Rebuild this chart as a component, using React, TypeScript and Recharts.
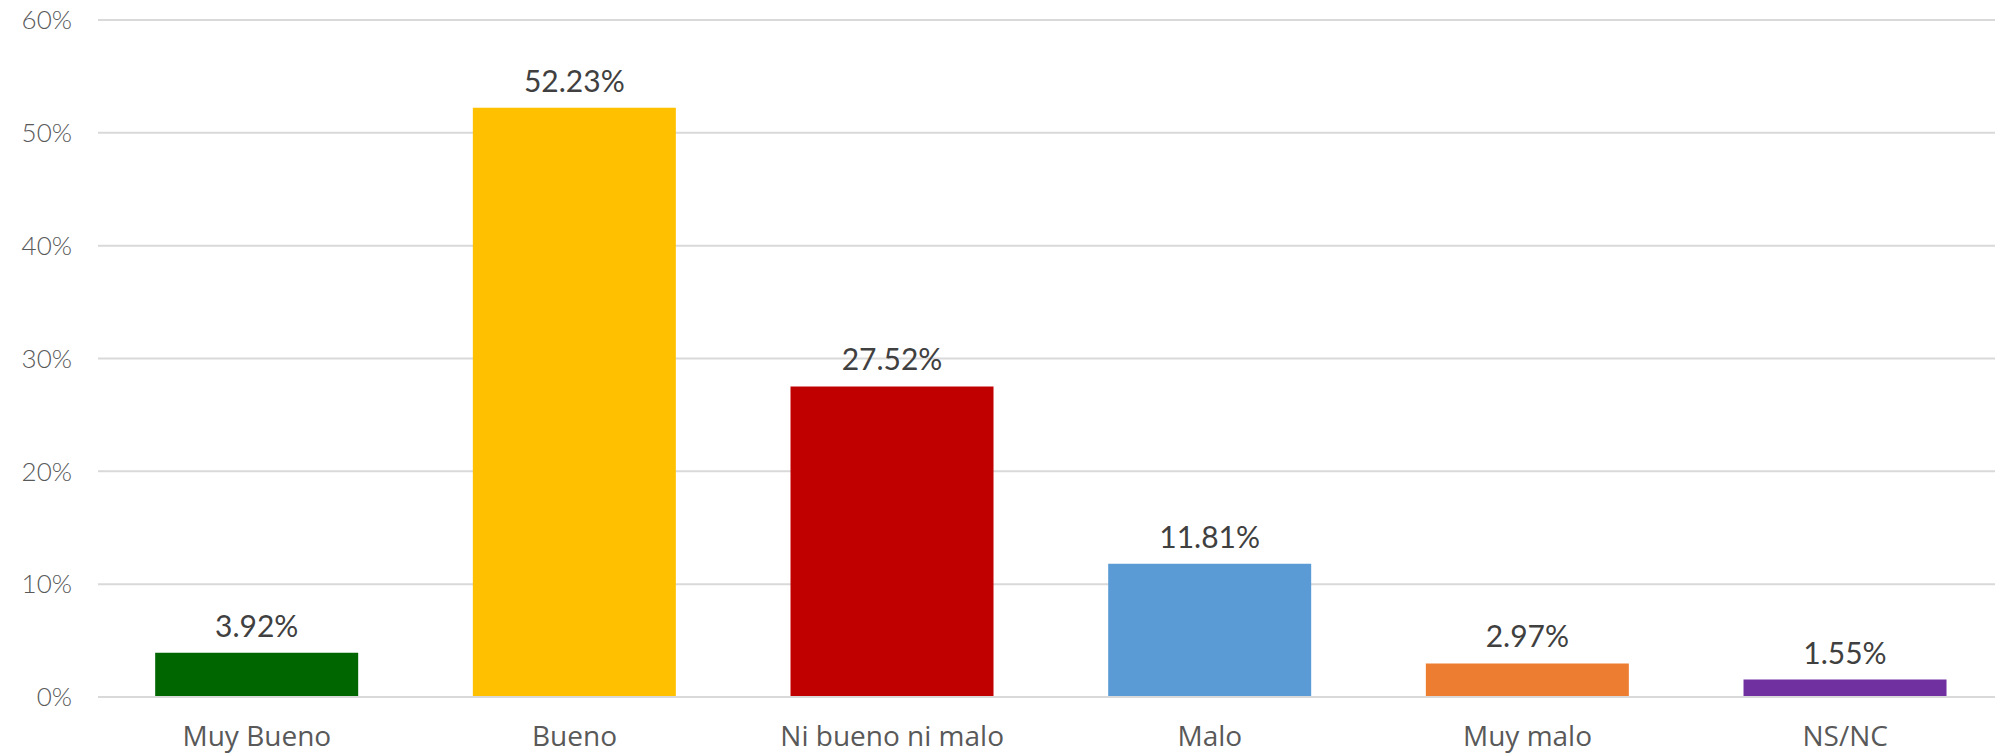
import React from 'react';
import { BarChart, Bar, XAxis, YAxis, CartesianGrid, Cell, LabelList } from 'recharts';

document.body.style.margin = '0';

const categories = ['Muy Bueno', 'Bueno', 'Ni bueno ni malo', 'Malo', 'Muy malo', 'NS/NC'];
const values = [3.92, 52.23, 27.52, 11.81, 2.97, 1.55];
const barColors = ['#006600', '#FFC000', '#C00000', '#5B9BD5', '#ED7D31', '#7030A0'];
const yTicks = [0, 10, 20, 30, 40, 50, 60];

const data = categories.map((name, i) => ({ name, value: values[i] }));

const App = () => {
  return (
    <div style={{ width: 1995, height: 753, background: '#fff', overflow: 'hidden' }}>
      {/* plot runs a little past the right edge, as in the original */}
      <BarChart
        width={2004}
        height={753}
        data={data}
        margin={{ top: 20, right: 0, bottom: 0, left: 0 }}
        barCategoryGap="18%"
      >
        <CartesianGrid vertical={false} stroke="#d9d9d9" strokeWidth={2} />
        <XAxis
          dataKey="name"
          axisLine={{ stroke: '#d9d9d9', strokeWidth: 2 }}
          tickLine={false}
          height={56}
          tickMargin={23}
          tick={{ fill: '#595959', fontSize: 28, fontFamily: '"Open Sans", sans-serif' }}
          interval={0}
        />
        <YAxis
          width={98}
          domain={[0, 60]}
          ticks={yTicks}
          axisLine={false}
          tickLine={false}
          tickMargin={20}
          tickFormatter={(v) => `${v}%`}
          tick={{ fill: '#595959', fontSize: 26, fontFamily: 'Lato, sans-serif', fontWeight: 300 }}
        />
        <Bar dataKey="value" isAnimationActive={false}>
          {data.map((d, i) => (
            <Cell key={d.name} fill={barColors[i]} />
          ))}
          <LabelList
            dataKey="value"
            position="top"
            offset={16}
            formatter={(v: any) => `${Number(v).toFixed(2)}%`}
            style={{ fill: '#404040', fontSize: 30, fontFamily: 'Lato, sans-serif' }}
          />
        </Bar>
      </BarChart>
    </div>
  );
};

export default App;
